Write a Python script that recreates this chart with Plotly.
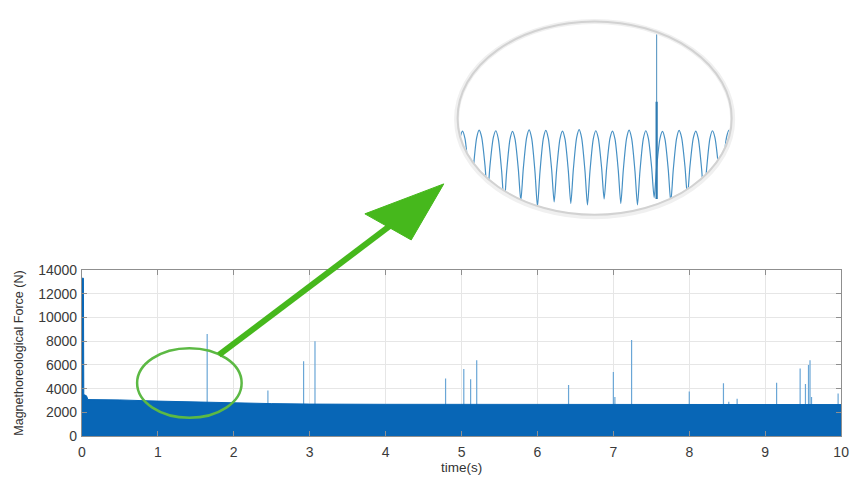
import plotly.graph_objects as go

W, H = 859, 477

# ---------------- data ----------------
# upper envelope of the dense oscillating force (filled to zero)
env_t = [0.0, 0.02, 0.025, 0.06, 0.08, 0.5, 1.0, 1.5, 2.0, 2.5, 3.0, 4.0, 10.0]
env_f = [13300, 13300, 3500, 3400, 3080, 3050, 2950, 2870, 2800, 2740, 2700, 2680, 2660]

# isolated force spikes (time s, peak N)
spike_t = [1.65, 2.45, 2.92, 3.07, 4.79, 5.03, 5.12, 5.20, 6.41, 7.00, 7.02, 7.24,
           8.00, 8.45, 8.52, 8.63, 9.15, 9.46, 9.53, 9.57, 9.59, 9.61, 9.96]
spike_f = [8600, 3850, 6300, 8000, 4850, 5650, 4800, 6400, 4300, 5400, 3300, 8100,
           3750, 4450, 2900, 3150, 4500, 5700, 4400, 6000, 6400, 3300, 3600]

# zoomed inset: time (ms, relative) and force (N)
inset_ms = [0, 3, 7, 10, 13, 17,
            20, 23, 27, 30, 33, 37,
            40, 43, 47, 50, 53, 57,
            60, 63, 67, 70, 73, 77,
            80, 83, 87, 90, 93, 97,
            100, 103, 107, 110, 113, 117,
            120, 123, 127, 130, 133, 137,
            140, 143, 147, 150, 153, 157,
            160, 163, 167, 170, 173, 177,
            180, 183, 187, 190, 193, 197,
            200, 203, 207, 210, 213, 217,
            220, 223, 227, 230, 233, 237,
            240, 243, 247, 250, 253, 257,
            260, 263, 267, 270, 273, 277,
            280, 283, 287, 290, 293, 297,
            300, 303, 307, 310, 313, 317,
            320, 323, 327, 330, 333, 337,
            340]
inset_f = [600, 1594, 2551, 2790, 2535, 1512,
           450, 1526, 2562, 2820, 2583, 1635,
           650, 1626, 2566, 2800, 2528, 1435,
           300, 1426, 2510, 2780, 2526, 1508,
           450, 1531, 2571, 2830, 2549, 1421,
           250, 1412, 2531, 2810, 2547, 1494,
           400, 1485, 2529, 2790, 2524, 1458,
           350, 1480, 2569, 2840, 2563, 1453,
           300, 1435, 2528, 2800, 2549, 1544,
           500, 1540, 2540, 2790, 2524, 1458,
           350, 1471, 2551, 2820, 2545, 1444,
           300, 1435, 2528, 2800, 2555, 1572,
           550, 1562, 2537, 2780, 2521, 1481,
           400, 1494, 2547, 2810, 2569, 1603,
           600, 1594, 2551, 2790, 2535, 1512,
           450, 1517, 2544, 2800, 2571, 1653,
           700, 1662, 2589, 2820, 2600, 1717,
           800]
inset_spike_ms = [243, 243]
inset_spike_f = [500, 8600]
inset_spike_core_f = [500, 3780]

x_ticks = [0, 1, 2, 3, 4, 5, 6, 7, 8, 9, 10]
x_labels = ["0", "1", "2", "3", "4", "5", "6", "7", "8", "9", "10"]
y_ticks = [0, 2000, 4000, 6000, 8000, 10000, 12000, 14000]
y_labels = ["0", "2000", "4000", "6000", "8000", "10000", "12000", "14000"]

# ---------------- helpers ----------------
def px(x):
    return x / W

def py(y):
    return 1 - y / H

FONT = "Liberation Sans, Arial, sans-serif"

# spike polyline built from lists
sx, sy = [], []
for t, f in zip(spike_t, spike_f):
    sx += [t, t, None]
    sy += [0, f, None]

fig = go.Figure()
fig.add_trace(go.Scatter(x=sx, y=sy, mode="lines",
                         line=dict(color="#6aa6d6", width=1.2),
                         hoverinfo="skip", showlegend=False))
fig.add_trace(go.Scatter(x=env_t, y=env_f, mode="lines", fill="tozeroy",
                         fillcolor="#0866b6", line=dict(color="#0866b6", width=1),
                         hoverinfo="skip", showlegend=False))

# inset
fig.add_trace(go.Scatter(x=inset_ms, y=inset_f, mode="lines", xaxis="x2", yaxis="y2",
                         line=dict(color="#4690c4", width=1.2, shape="spline", smoothing=0.7),
                         hoverinfo="skip", showlegend=False))
fig.add_trace(go.Scatter(x=inset_spike_ms, y=inset_spike_f, mode="lines", xaxis="x2", yaxis="y2",
                         line=dict(color="#5b97c2", width=1.1),
                         hoverinfo="skip", showlegend=False))
fig.add_trace(go.Scatter(x=inset_spike_ms, y=inset_spike_core_f, mode="lines", xaxis="x2", yaxis="y2",
                         line=dict(color="#2f7bb2", width=2.2),
                         hoverinfo="skip", showlegend=False))

axis_common = dict(showline=True, linecolor="#8f8f8f", linewidth=1, mirror="ticks",
                   ticks="inside", ticklen=5, tickcolor="#8f8f8f",
                   showgrid=True, gridcolor="#e6e6e6", gridwidth=1, zeroline=False,
                   tickfont=dict(family=FONT, size=14, color="#3a3a3a"))

# ellipse geometry of the inset (decoration)
cx, cy, rx, ry = 599, 114, 139, 100
k = 0.5523

def P(x, y):
    return f"{px(x):.5f},{py(y):.5f}"

ell = (f"M {P(cx + rx, cy)} "
       f"C {P(cx + rx, cy - k * ry)} {P(cx + k * rx, cy - ry)} {P(cx, cy - ry)} "
       f"C {P(cx - k * rx, cy - ry)} {P(cx - rx, cy - k * ry)} {P(cx - rx, cy)} "
       f"C {P(cx - rx, cy + k * ry)} {P(cx - k * rx, cy + ry)} {P(cx, cy + ry)} "
       f"C {P(cx + k * rx, cy + ry)} {P(cx + rx, cy + k * ry)} {P(cx + rx, cy)} Z")
rect = f"M {P(450, 5)} L {P(450, 222)} L {P(748, 222)} L {P(748, 5)} Z "
mask_path = rect + ell

shapes = [
    dict(type="path", path=mask_path, xref="paper", yref="paper", fillcolor="white",
         fillrule="evenodd", line=dict(width=0), layer="above"),
    dict(type="circle", xref="paper", yref="paper", x0=px(cx - rx - 1), x1=px(cx + rx + 1),
         y0=py(cy + ry + 2), y1=py(cy - ry), line=dict(color="#f0f0f0", width=5), layer="above"),
    dict(type="circle", xref="paper", yref="paper", x0=px(cx - rx), x1=px(cx + rx),
         y0=py(cy + ry), y1=py(cy - ry), line=dict(color="#d2d2d2", width=2), layer="above"),
    dict(type="circle", xref="paper", yref="paper", x0=px(135), x1=px(241),
         y0=py(424), y1=py(352), line=dict(color="#5cb944", width=2.5), layer="above"),
    dict(type="line", xref="paper", yref="paper", x0=px(218), y0=py(359), x1=px(392), y1=py(225),
         line=dict(color="#46b81c", width=6), layer="above"),
    dict(type="path", xref="paper", yref="paper",
         path=f"M {P(446, 182)} L {P(366, 213)} L {P(413, 240)} Z",
         fillcolor="#46b81c", line=dict(color="#46b81c", width=1), layer="above"),
]

fig.update_layout(
    width=W, height=H, autosize=False,
    margin=dict(l=0, r=0, t=0, b=0),
    paper_bgcolor="white", plot_bgcolor="white",
    showlegend=False,
    xaxis=dict(domain=[px(79), px(849)], range=[0, 10], tickvals=x_ticks, ticktext=x_labels,
               ticklabelstandoff=3,
               title=dict(text="time(s)", standoff=1,
                          font=dict(family=FONT, size=13.5, color="#333333")),
               anchor="y", **axis_common),
    yaxis=dict(domain=[py(443), py(271)], range=[0, 14000], tickvals=y_ticks, ticktext=y_labels,
               ticklabelstandoff=1,
               title=dict(text="Magnethoreological Force (N)", standoff=11,
                          font=dict(family=FONT, size=12.5, color="#333333")),
               anchor="x", **axis_common),
    xaxis2=dict(domain=[px(460), px(738)], range=[4.1, 333.1], visible=False,
                anchor="y2", showgrid=False, zeroline=False),
    yaxis2=dict(domain=[py(213), py(15)], range=[0, 6447], visible=False,
                anchor="x2", showgrid=False, zeroline=False),
    shapes=shapes,
)

fig.write_html("out.html", config={"displayModeBar": False},
               post_script="document.body.style.margin='0';document.body.style.overflow='hidden';")
